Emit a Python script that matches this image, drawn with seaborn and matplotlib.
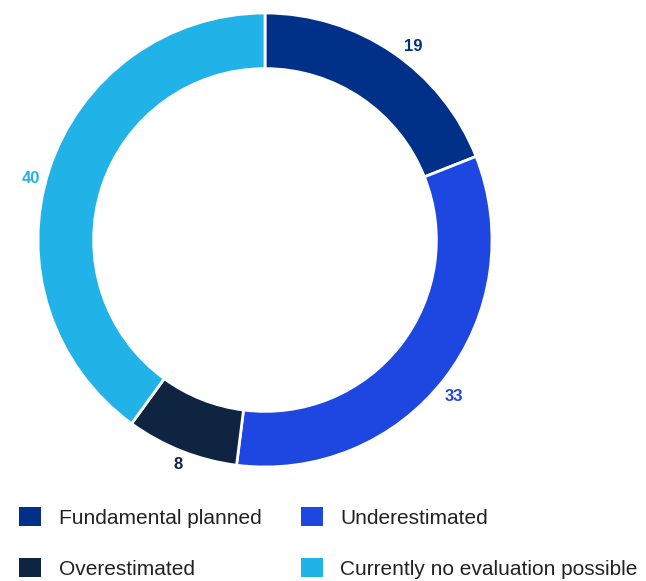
import matplotlib
matplotlib.use("Agg")
import matplotlib.pyplot as plt
import matplotlib.transforms as mtransforms
import seaborn as sns
from matplotlib.patches import Patch

sns.set_theme(style="white")
plt.rcParams['font.family'] = ['Liberation Sans', 'DejaVu Sans']

categories = ["Fundamental planned", "Underestimated", "Overestimated", "Currently no evaluation possible"]
values = [19, 33, 8, 40]
colors = ["#003087", "#1E46E0", "#0E2440", "#21B3E8"]

W, H = 646, 581
fig = plt.figure(figsize=(W / 100, H / 100), dpi=100)
cx, cy, r = 265, 240, 227
ax = fig.add_axes([(cx - r) / W, (H - cy - r) / H, 2 * r / W, 2 * r / H])

wedges, texts = ax.pie(values, colors=colors, startangle=90, counterclock=False,
                       labels=[str(v) for v in values], labeldistance=1.075,
                       wedgeprops=dict(width=0.245, edgecolor="white", linewidth=2),
                       textprops=dict(fontsize=12, fontweight="bold"))
# small label nudges in pixels (dx, dy) to match the original placement
nudges = [(11, -8), (-4, -7), (3, 2), (-2, -14)]
for t, c, (dx, dy) in zip(texts, colors, nudges):
    t.set_color(c)
    t.set_ha("center")
    t.set_va("center")
    t.set_transform(t.get_transform() + mtransforms.Affine2D().translate(dx, dy))
ax.set_xlim(-1, 1)
ax.set_ylim(-1, 1)
ax.set_aspect("equal")
ax.axis("off")

# legend filled row-wise (matplotlib fills column-wise, so reorder)
order = [0, 2, 1, 3]
handles = [Patch(facecolor=colors[i], edgecolor="none") for i in order]
labels = [categories[i] for i in order]
fig.legend(handles, labels, loc="upper left", bbox_to_anchor=(19 / W, (H - 507) / H),
           ncol=2, frameon=False, fontsize=15, borderpad=0, borderaxespad=0,
           handlelength=1.05, handleheight=1.05, handletextpad=0.85,
           labelspacing=1.45, columnspacing=1.9, labelcolor="#222222")

fig.savefig("out.png", dpi=100)
